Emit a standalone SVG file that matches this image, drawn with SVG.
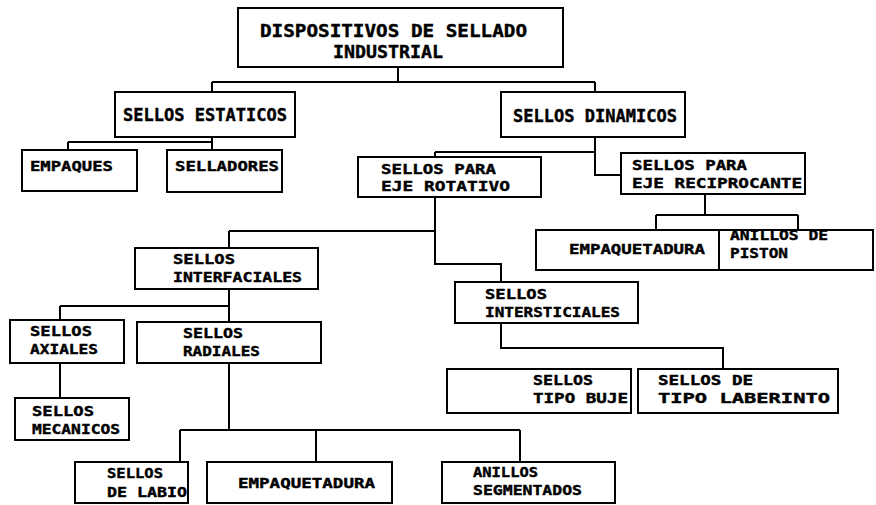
<svg xmlns="http://www.w3.org/2000/svg" width="876" height="505" viewBox="0 0 876 505">
<style>
rect{fill:#fff;stroke:#000;stroke-width:2}
#connectors path{fill:none;stroke:#000;stroke-width:2}
text{font-family:"DejaVu Sans Mono","Liberation Mono",monospace;font-weight:bold;font-size:14px;fill:#000;stroke:#000;stroke-width:0.4}
.t{font-size:17px}
</style>
<rect x="0" y="0" width="876" height="505" style="stroke:none"/>
<g id="connectors">
<path d="M398,67V82M212,82H595M212,82V92M595,82V92"/>
<path d="M212,137V142M68,142H212M68,142V150M212,142V150"/>
<path d="M595,137V175H621M435,152H595M435,152V157"/>
<path d="M705,194V215M656,215H798M656,215V230M798,215V230"/>
<path d="M435,197V264H501V282M229,231H435M229,231V248"/>
<path d="M229,289V322M60,306H229M60,306V320"/>
<path d="M60,363V398"/>
<path d="M229,363V430M180,430H520M180,430V462M316,430V462M520,430V462"/>
<path d="M501,323V348H723V369"/>
</g>
<g id="root"><rect x="238" y="8" width="325" height="59"/>
<text class="t" x="260" y="37" textLength="267" lengthAdjust="spacingAndGlyphs">DISPOSITIVOS DE SELLADO</text>
<text class="t" x="333" y="58" textLength="110" lengthAdjust="spacingAndGlyphs">INDUSTRIAL</text></g>
<g id="estaticos"><rect x="115" y="92" width="180" height="45"/>
<text class="t" x="123" y="121" textLength="164" lengthAdjust="spacingAndGlyphs">SELLOS ESTATICOS</text></g>
<g id="dinamicos"><rect x="501" y="92" width="184" height="45"/>
<text class="t" x="513" y="122" textLength="164" lengthAdjust="spacingAndGlyphs">SELLOS DINAMICOS</text></g>
<g id="empaques"><rect x="22" y="150" width="115" height="41"/>
<text x="30" y="171" textLength="83" lengthAdjust="spacingAndGlyphs">EMPAQUES</text></g>
<g id="selladores"><rect x="167" y="150" width="115" height="42"/>
<text x="175" y="171" textLength="104" lengthAdjust="spacingAndGlyphs">SELLADORES</text></g>
<g id="rotativo"><rect x="358" y="157" width="183" height="40"/>
<text x="381" y="174" textLength="115" lengthAdjust="spacingAndGlyphs">SELLOS PARA</text>
<text x="381" y="191" textLength="129" lengthAdjust="spacingAndGlyphs">EJE ROTATIVO</text></g>
<g id="reciprocante"><rect x="621" y="153" width="184" height="41"/>
<text x="632" y="170" textLength="115" lengthAdjust="spacingAndGlyphs">SELLOS PARA</text>
<text x="632" y="188" textLength="170" lengthAdjust="spacingAndGlyphs">EJE RECIPROCANTE</text></g>
<g id="empaquetadura1"><rect x="536" y="230" width="183" height="40"/>
<text x="569" y="254" textLength="136" lengthAdjust="spacingAndGlyphs">EMPAQUETADURA</text></g>
<g id="anillos-piston"><rect x="719" y="230" width="154" height="40"/>
<text x="730" y="240" textLength="98" lengthAdjust="spacingAndGlyphs">ANILLOS DE</text>
<text x="730" y="258" textLength="58" lengthAdjust="spacingAndGlyphs">PISTON</text></g>
<g id="interfaciales"><rect x="135" y="248" width="183" height="41"/>
<text x="173" y="264" textLength="62" lengthAdjust="spacingAndGlyphs">SELLOS</text>
<text x="173" y="282" textLength="129" lengthAdjust="spacingAndGlyphs">INTERFACIALES</text></g>
<g id="intersticiales"><rect x="455" y="282" width="183" height="41"/>
<text x="485" y="299" textLength="62" lengthAdjust="spacingAndGlyphs">SELLOS</text>
<text x="485" y="317" textLength="135" lengthAdjust="spacingAndGlyphs">INTERSTICIALES</text></g>
<g id="axiales"><rect x="10" y="320" width="114" height="43"/>
<text x="30" y="336" textLength="62" lengthAdjust="spacingAndGlyphs">SELLOS</text>
<text x="30" y="354" textLength="68" lengthAdjust="spacingAndGlyphs">AXIALES</text></g>
<g id="radiales"><rect x="137" y="322" width="184" height="41"/>
<text x="183" y="338" textLength="60" lengthAdjust="spacingAndGlyphs">SELLOS</text>
<text x="183" y="356" textLength="77" lengthAdjust="spacingAndGlyphs">RADIALES</text></g>
<g id="mecanicos"><rect x="15" y="398" width="114" height="42"/>
<text x="32" y="416" textLength="62" lengthAdjust="spacingAndGlyphs">SELLOS</text>
<text x="32" y="434" textLength="88" lengthAdjust="spacingAndGlyphs">MECANICOS</text></g>
<g id="labio"><rect x="75" y="462" width="113" height="41"/>
<text x="107" y="478" textLength="56" lengthAdjust="spacingAndGlyphs">SELLOS</text>
<text x="107" y="497" textLength="80" lengthAdjust="spacingAndGlyphs">DE LABIO</text></g>
<g id="empaquetadura2"><rect x="207" y="462" width="185" height="41"/>
<text x="238" y="488" textLength="137" lengthAdjust="spacingAndGlyphs">EMPAQUETADURA</text></g>
<g id="segmentados"><rect x="442" y="462" width="173" height="41"/>
<text x="473" y="477" textLength="65" lengthAdjust="spacingAndGlyphs">ANILLOS</text>
<text x="473" y="495" textLength="109" lengthAdjust="spacingAndGlyphs">SEGMENTADOS</text></g>
<g id="buje"><rect x="447" y="369" width="184" height="44"/>
<text x="533" y="385" textLength="60" lengthAdjust="spacingAndGlyphs">SELLOS</text>
<text x="533" y="403" textLength="95" lengthAdjust="spacingAndGlyphs">TIPO BUJE</text></g>
<g id="laberinto"><rect x="638" y="369" width="200" height="44"/>
<text x="658" y="385" textLength="95" lengthAdjust="spacingAndGlyphs">SELLOS DE</text>
<text x="658" y="403" textLength="172" lengthAdjust="spacingAndGlyphs">TIPO LABERINTO</text></g>
</svg>
